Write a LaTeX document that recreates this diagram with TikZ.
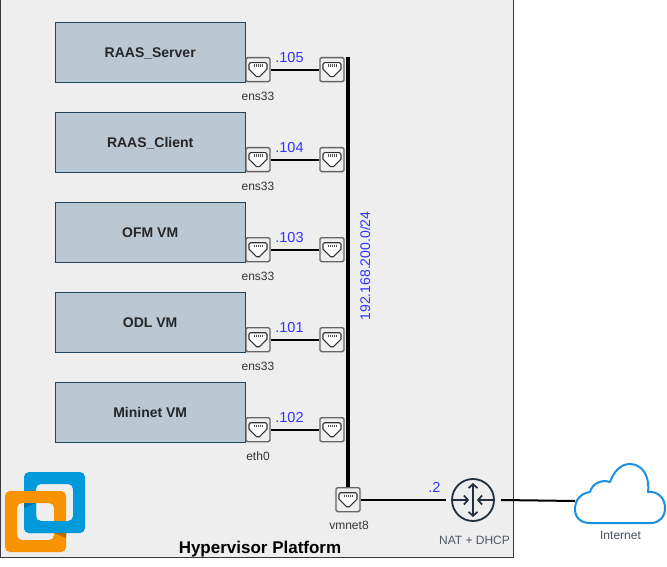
\documentclass[tikz,border=0pt]{standalone}
\usepackage{fontspec}
\setmainfont{Liberation Sans}
\usetikzlibrary{arrows.meta}
\definecolor{fondplat}{HTML}{EEEEEE}
\definecolor{bordplat}{HTML}{36393D}
\definecolor{fondvm}{HTML}{BAC8D3}
\definecolor{bordvm}{HTML}{23445D}
\definecolor{bleuip}{HTML}{3333FF}
\definecolor{gris}{HTML}{666666}
\definecolor{routeur}{HTML}{232F3E}
\definecolor{nuage}{HTML}{1A8FE3}
\definecolor{vmbleu}{HTML}{009ADA}
\definecolor{vmorange}{HTML}{F79200}
\tikzset{
	vm/.style={draw=bordvm, fill=fondvm, minimum width=190pt, minimum height=60pt, inner sep=0pt, text height=10pt, text depth=0pt, font=\fontsize{14}{16}\selectfont\bfseries, text=black!85},
	port/.style={draw=gris, line width=1.4pt, fill=fondplat, rounded corners=1.5pt, minimum size=24pt, inner sep=0pt, path picture={
		\draw[line width=1.1pt, black!80, fill=white, line join=round, shift={(path picture bounding box.center)}]
			(-9,-7)--(9,-7)--(9,1)--(6,1)--(6,4)--(3,4)--(3,7)--(-3,7)--(-3,4)--(-6,4)--(-6,1)--(-9,1)--cycle;
		\foreach \dx in {-4,-2,0,2,4}
			\draw[line width=0.7pt, black!70, shift={(path picture bounding box.center)}] (\dx,-5.2)--(\dx,-2.8);
	}},
	lien/.style={line width=2pt, black},
	nomport/.style={font=\fontsize{12}{14}\selectfont, text=black!80, inner sep=0pt},
	ip/.style={font=\fontsize{14.5}{16}\selectfont, text=bleuip, inner sep=0pt},
	fleche/.style={routeur, line width=1.7pt},
}
\begin{document}
\begin{tikzpicture}[x=1pt, y=-1pt]
	\useasboundingbox (0,0) rectangle (667,567);
	\node[draw=bordplat, fill=fondplat, line width=1pt, minimum width=513pt, minimum height=558pt, inner sep=0pt, anchor=north west] (plateforme) at (0,-1) {};
	% logo
	\fill[vmbleu, rounded corners=5pt, even odd rule] (24,472) rectangle (85,533) (36,484) rectangle (73,521);
	\fill[vmorange, rounded corners=5pt, even odd rule] (5,491) rectangle (66,552) (17,503) rectangle (54,540);
	\fill[vmbleu] (24,503) -- (24,528) .. controls (24,531) and (26,533) .. (29,533) -- (67,533) -- (67,521) -- (40,521) .. controls (37.5,521) and (36,519.5) .. (36,517) -- (36,503) -- cycle;
	\fill[vmbleu!75!black] (24,503) -- (36,503) -- (24,508) -- cycle;
	\fill[vmorange!75!black] (54,533) -- (66,533) -- (66,538) -- cycle;
	% machines
	\node[vm, anchor=north west] (serveur) at (55,22) {RAAS\_Server};
	\node[vm, anchor=north west] (client) at (55,112) {RAAS\_Client};
	\node[vm, anchor=north west] (ofm) at (55,202) {OFM VM};
	\node[vm, anchor=north west] (odl) at (55,292) {ODL VM};
	\node[vm, anchor=north west] (mininet) at (55,382) {Mininet VM};
	% ports
	\node[port] (pa1) at (258,69.7) {};
	\node[port] (pb1) at (332,69.7) {};
	\node[port] (pa2) at (258,159.7) {};
	\node[port] (pb2) at (332,159.7) {};
	\node[port] (pa3) at (258,249.7) {};
	\node[port] (pb3) at (332,249.7) {};
	\node[port] (pa4) at (258,339.7) {};
	\node[port] (pb4) at (332,339.7) {};
	\node[port] (pa5) at (258,429.7) {};
	\node[port] (pb5) at (332,429.7) {};
	\node[port] (vmnet) at (348,499.7) {};
	\coordinate (bushaut) at (348,57);
	% liens
	\draw[lien] (pa1)--(pb1);
	\draw[lien] (pa2)--(pb2);
	\draw[lien] (pa3)--(pb3);
	\draw[lien] (pa4)--(pb4);
	\draw[lien] (pa5)--(pb5);
	\draw[line width=4pt, black] (bushaut)--(vmnet.north);
	% routeur et nuage
	\node[circle, draw=routeur, line width=1.8pt, fill=fondplat, minimum size=42pt, inner sep=0pt] (nat) at (473,500) {};
	\draw[fleche, {Straight Barb[length=4pt,width=9pt]}-{Straight Barb[length=4pt,width=9pt]}] (nat.center)+(0,-17) -- +(0,17);
	\draw[fleche, -{Straight Barb[length=4pt,width=9pt]}] (nat.west)+(0,0) -- +(18,0);
	\draw[fleche, -{Straight Barb[length=4pt,width=9pt]}] (nat.east)+(0,0) -- +(-18,0);
	\coordinate (natg) at (446,499.7);
	\coordinate (natd) at (501,500);
	\coordinate (internet) at (575,501);
	\draw[lien] (vmnet)--(natg);
	\draw[lien] (natd)--(internet);
	\draw[nuage, line width=2pt, fill=white, line join=round]
		(590,523) .. controls (581,523) and (575,518) .. (575,509)
		.. controls (575,500) and (581,493) .. (590,492)
		.. controls (592,484) and (601,479) .. (610,482)
		.. controls (614,471) and (621,464) .. (630,464)
		.. controls (642,464) and (650,476) .. (648,492)
		.. controls (658,491) and (665,498) .. (665,508)
		.. controls (665,517) and (659,523) .. (651,523) -- cycle;
	% textes
	\node[nomport] (nom1) at (258,96) {ens33};
	\node[nomport] (nom2) at (258,186) {ens33};
	\node[nomport] (nom3) at (258,276) {ens33};
	\node[nomport] (nom4) at (258,366) {ens33};
	\node[nomport] (nom5) at (258,456) {eth0};
	\node[nomport] (nom6) at (349,525) {vmnet8};
	\node[ip] (ip1) at (289.5,57.5) {.105};
	\node[ip] (ip2) at (289.5,147.5) {.104};
	\node[ip] (ip3) at (289.5,237.5) {.103};
	\node[ip] (ip4) at (289.5,327.5) {.101};
	\node[ip] (ip5) at (289.5,417.5) {.102};
	\node[ip] (ip6) at (434.5,487.5) {.2};
	\node[ip, font=\fontsize{14}{16}\selectfont, rotate=90] (reseau) at (365,266) {192.168.200.0/24};
	\node[font=\fontsize{12}{14}\selectfont, text=routeur!80, inner sep=0pt] (natnom) at (474.5,540) {NAT + DHCP};
	\node[font=\fontsize{12}{14}\selectfont, text=routeur!85, inner sep=0pt] (nomnuage) at (620.5,535.5) {Internet};
	\node[font=\fontsize{17}{19}\selectfont\bfseries, text=black, inner sep=0pt] (titre) at (260,549) {Hypervisor Platform};
\end{tikzpicture}
\end{document}
